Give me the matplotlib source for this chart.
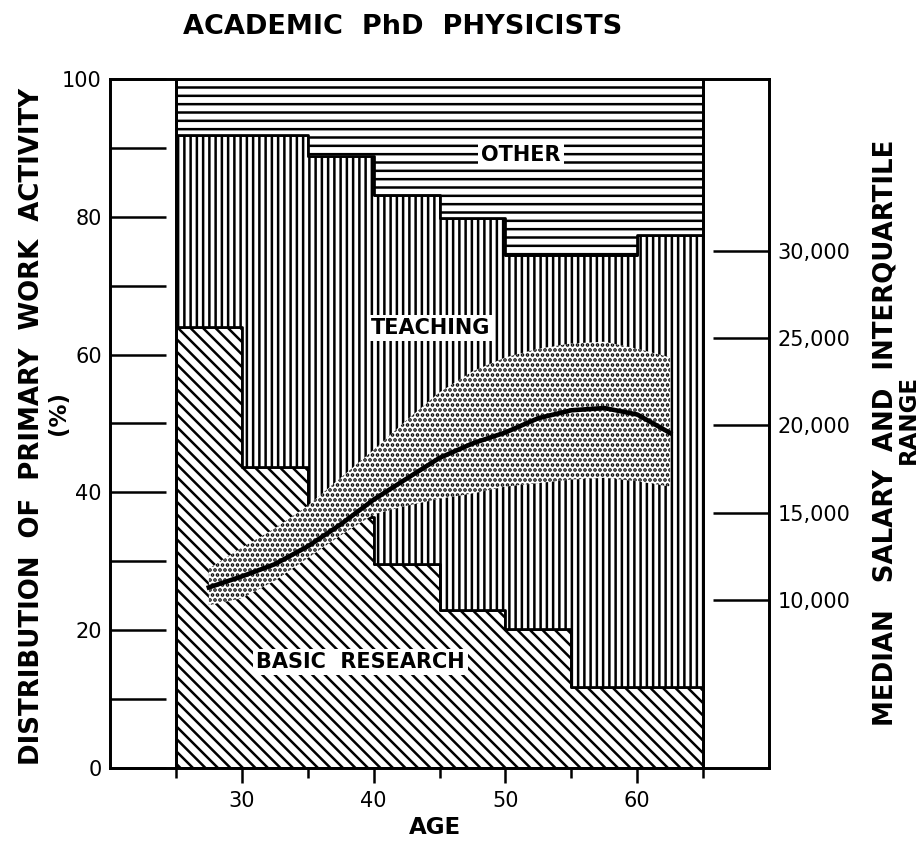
import numpy as np
import matplotlib
matplotlib.use("Agg")
import matplotlib.pyplot as plt

# five-year age groups and share of primary work activity (%)
age_edges = [25, 30, 35, 40, 45, 50, 55, 60, 65]
basic_research = [64.0, 43.7, 36.5, 29.6, 22.9, 20.2, 11.8, 11.8]
teaching = [27.9, 48.2, 52.3, 53.6, 56.9, 54.3, 62.7, 65.6]
other = [8.1, 8.1, 11.2, 16.8, 20.2, 25.5, 25.5, 22.6]

# median salary and interquartile range ($)
salary_age = [27.5, 30, 32.5, 35, 37.5, 40, 42.5, 45, 47.5, 50, 52.5, 55, 57.5, 60, 62.5]
salary_median = [10720, 11350, 12050, 13070, 14330, 15750, 16950, 18140, 18970, 19600,
                 20420, 20870, 21000, 20630, 19570]
salary_q3 = [11800, 13000, 14100, 15400, 17000, 18600, 20300, 21900, 23100, 23900,
             24400, 24700, 24800, 24400, 23900]
salary_q1 = [9700, 10100, 11100, 12400, 13700, 14900, 15400, 15800, 16100, 16500,
             16700, 16900, 17000, 16800, 16500]

pct_ticks = [0, 20, 40, 60, 80, 100]
pct_minor = [10, 30, 50, 70, 90]
age_ticks = [30, 40, 50, 60]
age_minor = [25, 35, 45, 55, 65]
salary_ticks = [10000, 15000, 20000, 25000, 30000]

plt.rcParams['font.family'] = 'DejaVu Sans'
plt.rcParams['hatch.linewidth'] = 1.2

W, H, DPI = 923, 843, 150
fig = plt.figure(figsize=(W / DPI, H / DPI), dpi=DPI)
ax = fig.add_axes([110 / W, 75 / H, 659 / W, 689 / H])

edges = np.array(age_edges)
lo = np.array(basic_research)
mid = lo + np.array(teaching)
top = mid + np.array(other)


def steps(v):
    return np.append(v, v[-1])


bs = chr(92)  # backslash for the diagonal hatch
ax.fill_between(edges, 0, steps(lo), step='post', facecolor='white',
                edgecolor='black', hatch=bs * 4, linewidth=1.3)
ax.fill_between(edges, steps(lo), steps(mid), step='post', facecolor='white',
                edgecolor='black', hatch='||||', linewidth=1.3)
ax.fill_between(edges, steps(mid), steps(top), step='post', facecolor='white',
                edgecolor='black', hatch='---', linewidth=1.3)
ax.vlines([age_edges[0], age_edges[-1]], 0, 100, color='black', lw=1.4)

lab = dict(ha='center', va='center', fontsize=10, fontweight='bold',
           bbox=dict(facecolor='white', edgecolor='none', pad=1.5))
ax.text(51.2, 89.0, 'OTHER', **lab)
ax.text(44.3, 63.9, 'TEACHING', **lab)
ax.text(39.0, 15.4, 'BASIC  RESEARCH', **lab)

ax.set_xlim(20, 70)
ax.set_ylim(0, 100)
ax.set_xticks(age_ticks)
ax.set_xticks(age_minor, minor=True)
ax.set_yticks(pct_ticks)
ax.set_yticks(pct_minor, minor=True)
ax.tick_params(axis='x', which='major', direction='out', length=7, width=1.2,
               pad=4, labelsize=10)
ax.tick_params(axis='x', which='minor', direction='out', length=5, width=1.2)
ax.tick_params(axis='y', which='both', direction='in', length=27, width=1.2,
               pad=4, labelsize=10)
for s in ax.spines.values():
    s.set_linewidth(1.3)

ax2 = ax.twinx()
ax2.set_ylim(372, 39856)
ax2.set_yticks(salary_ticks)
ax2.set_yticklabels([f"{v:,}" for v in salary_ticks])
ax2.tick_params(axis='y', direction='in', length=27, width=1.2, pad=4, labelsize=10)
ax2.fill_between(salary_age, salary_q1, salary_q3, facecolor='white',
                 edgecolor='black', linewidth=0, hatch='.....')
ax2.plot(salary_age, salary_median, color='black', lw=2.2)
for s in ax2.spines.values():
    s.set_linewidth(1.3)

tx = dict(ha='center', va='center', fontweight='bold')
fig.text(403 / W, 1 - 27 / H, 'ACADEMIC  PhD  PHYSICISTS', fontsize=13, **tx)
fig.text(435 / W, 1 - 827 / H, 'AGE', fontsize=11, **tx)
fig.text(32 / W, 1 - 426 / H, 'DISTRIBUTION  OF  PRIMARY  WORK  ACTIVITY',
         rotation=90, fontsize=12.5, **tx)
fig.text(59 / W, 1 - 413 / H, '(%)', rotation=90, fontsize=11, **tx)
fig.text(885 / W, 1 - 433 / H, 'MEDIAN   SALARY  AND  INTERQUARTILE',
         rotation=90, fontsize=12.5, **tx)
fig.text(908 / W, 1 - 420 / H, 'RANGE', rotation=90, fontsize=11, **tx)

fig.savefig('out.png', dpi=DPI)
